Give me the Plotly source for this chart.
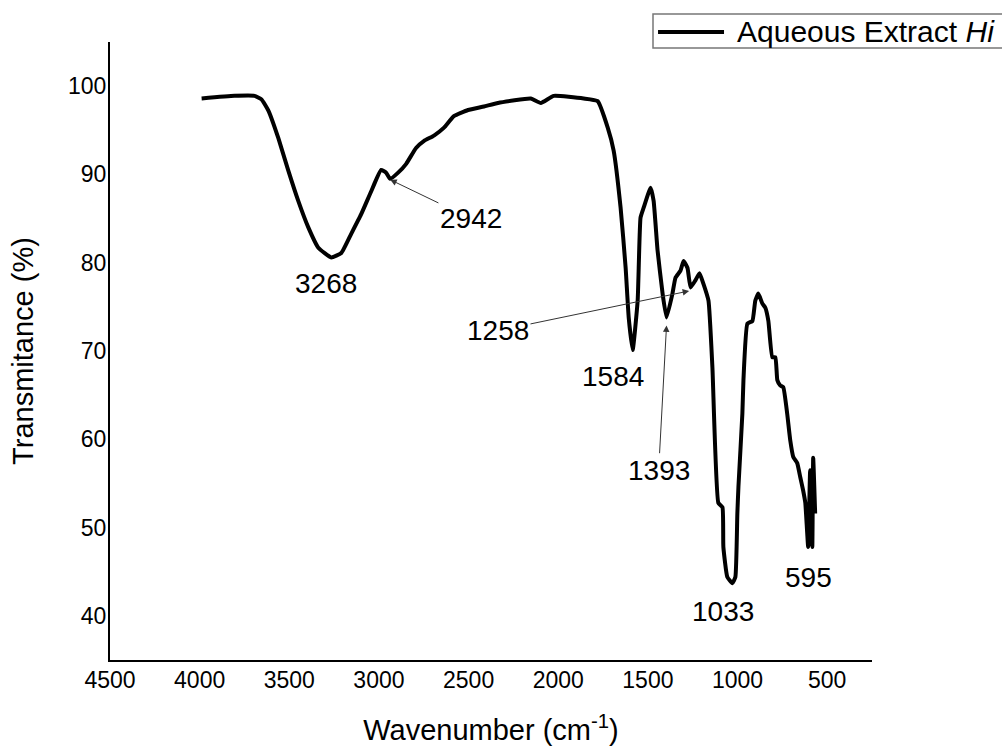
import plotly.graph_objects as go

# FTIR spectrum
wavenumber = [3989, 3806, 3694, 3655, 3616, 3561, 3505, 3450, 3394, 3338,
              3266, 3210, 3154, 3099, 3043, 2988, 2960, 2937, 2893, 2848,
              2793, 2748, 2693, 2637, 2582, 2503, 2414, 2336, 2153, 2097,
              2025, 1858, 1780, 1724, 1691, 1652, 1624, 1607, 1585, 1557,
              1541, 1524, 1485, 1468, 1446, 1418, 1396, 1363, 1346, 1318,
              1301, 1279, 1262, 1235, 1212, 1190, 1162, 1140, 1107, 1084,
              1079, 1057, 1029, 1012, 1001, 995, 973, 967, 945, 917,
              901, 884, 862, 845, 828, 806, 789, 778, 762, 745,
              723, 706, 689, 667, 650, 634, 622, 606, 595, 583,
              578, 567]
transmittance = [98.6, 98.9, 98.9, 98.5, 97.2, 94.1, 90.4, 87.0, 84.0, 81.7,
                 80.6, 81.1, 83.3, 85.5, 88.1, 90.5, 90.2, 89.5, 90.2, 91.2,
                 93.0, 93.8, 94.4, 95.3, 96.6, 97.3, 97.7, 98.1, 98.6, 98.1,
                 98.9, 98.6, 98.3, 95.3, 92.7, 86.2, 79.4, 73.8, 70.1, 75.7,
                 85.1, 86.2, 88.5, 87.0, 81.4, 76.5, 73.8, 76.5, 78.3, 79.1,
                 80.2, 79.4, 77.2, 78.0, 78.8, 77.6, 75.7, 68.1, 52.8, 52.3,
                 47.8, 44.4, 43.7, 44.4, 51.6, 54.6, 62.9, 66.7, 73.1, 73.4,
                 75.7, 76.5, 75.4, 74.9, 73.4, 69.3, 69.3, 66.7, 66.1, 65.9,
                 62.9, 59.9, 58.0, 57.3, 55.7, 54.2, 52.8, 47.8, 56.5, 47.8,
                 57.9, 51.6]

series_name = "Aqueous Extract <i>Hi</i>"

# Peak labels
plain_labels = ["3268", "1584", "1033", "595"]
plain_label_x = [3294, 1696, 1079, 606]
plain_label_y = [77.6, 67.1, 40.5, 44.4]

arrow_labels = ["2942", "1258", "1393"]
arrow_target_x = [2937, 1270, 1396]
arrow_target_y = [89.4, 76.8, 72.9]
arrow_text_x = [2487, 2336, 1440]
arrow_text_y = [85.0, 72.3, 56.5]

x_ticks = [4500, 4000, 3500, 3000, 2500, 2000, 1500, 1000, 500]
y_ticks = [40, 50, 60, 70, 80, 90, 100]

FONT = "Liberation Sans, Arial, sans-serif"

fig = go.Figure()
fig.add_trace(go.Scatter(
    x=wavenumber, y=transmittance, mode="lines",
    name=series_name, showlegend=False,
    line=dict(color="black", width=4, shape="spline", smoothing=0.4),
))

annotations = []
for t, x, y in zip(plain_labels, plain_label_x, plain_label_y):
    annotations.append(dict(x=x, y=y, xref="x", yref="y", text=t,
                            showarrow=False, font=dict(size=28, color="black", family=FONT)))
for t, hx, hy, tx, ty in zip(arrow_labels, arrow_target_x, arrow_target_y, arrow_text_x, arrow_text_y):
    annotations.append(dict(x=hx, y=hy, xref="x", yref="y", ax=tx, ay=ty,
                            axref="x", ayref="y", text=t, showarrow=True,
                            arrowhead=2, arrowsize=1.3, arrowwidth=1,
                            arrowcolor="#333", standoff=0,
                            font=dict(size=28, color="black", family=FONT)))

# legend box (drawn in paper coordinates, top right)
annotations.append(dict(x=0.8202, y=1.0162, xref="paper", yref="paper",
                        xanchor="left", yanchor="middle", text=series_name,
                        showarrow=False, font=dict(size=30, color="black", family=FONT)))
shapes = [
    dict(type="rect", xref="paper", yref="paper", x0=0.7126, x1=1.19, y0=0.9903, y1=1.0453,
         line=dict(color="#777", width=1.5), fillcolor="white", layer="below"),
    dict(type="line", xref="paper", yref="paper", x0=0.7192, x1=0.8058, y0=1.0162, y1=1.0162,
         line=dict(color="black", width=4)),
]

fig.update_layout(
    width=1002, height=746,
    paper_bgcolor="white", plot_bgcolor="white",
    margin=dict(l=110, r=130, t=42, b=86),
    font=dict(family=FONT, color="black"),
    showlegend=False,
    annotations=annotations,
    shapes=shapes,
    xaxis=dict(range=[4500, 250], tickvals=x_ticks, ticktext=[str(v) for v in x_ticks],
               showline=True, linecolor="black", linewidth=2, showgrid=False,
               zeroline=False, ticks="", tickfont=dict(size=23, family=FONT),
               automargin=False, ticklabelstandoff=-2,
               title=dict(text="Wavenumber (cm<sup>-1</sup>)", font=dict(size=29, family=FONT),
                          standoff=30)),
    yaxis=dict(range=[35, 105], tickvals=y_ticks, ticktext=[str(v) for v in y_ticks],
               showline=True, linecolor="black", linewidth=2, showgrid=False,
               zeroline=False, ticks="", tickfont=dict(size=23, family=FONT),
               ticklabelstandoff=-3, automargin=False,
               title=dict(text="Transmitance (%)", font=dict(size=29, family=FONT),
                          standoff=26)),
)

fig.write_html("out.html", config={"displayModeBar": False},
               post_script="document.body.style.margin='0';document.body.style.overflow='hidden';")
